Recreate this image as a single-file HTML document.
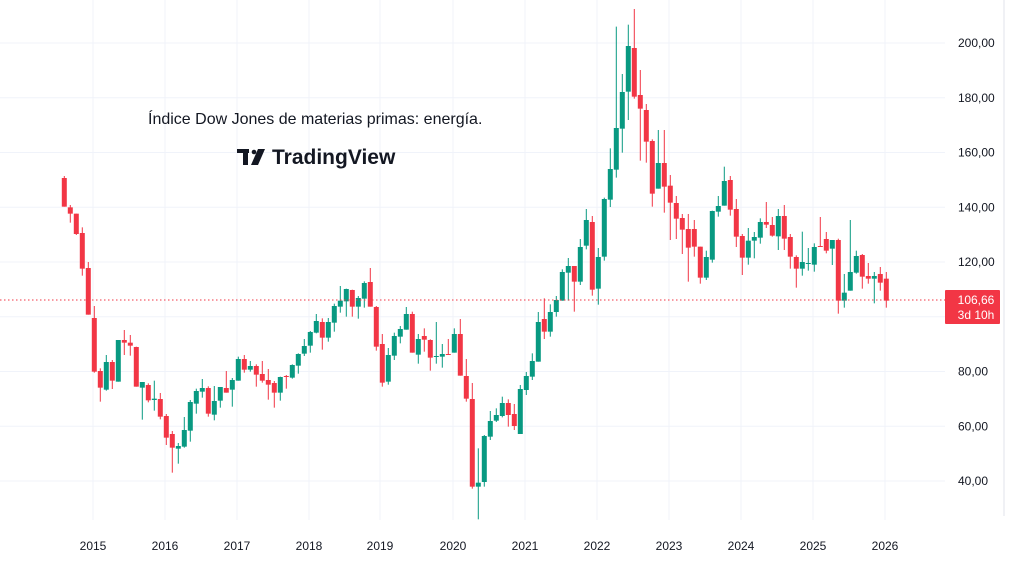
<!DOCTYPE html>
<html><head><meta charset="utf-8"><style>
body{margin:0;background:#fff;font-family:"Liberation Sans",sans-serif;}
svg{display:block}
</style></head><body>
<svg id="c" width="1010" height="567" xmlns="http://www.w3.org/2000/svg" font-family="Liberation Sans, sans-serif">
<rect width="1010" height="567" fill="#fff"/>
<g id="grid" stroke="#f0f3fa" stroke-width="1"></g>
<text x="148" y="124" font-size="16" fill="#131722">Índice Dow Jones de materias primas: energía.</text>
<g fill="#131722"><rect x="237" y="149" width="12" height="4"/><rect x="243" y="149" width="5" height="16"/><circle cx="254" cy="152" r="2.3"/><polygon points="258,149 265,149 258,165 251,165"/></g>
<text x="272" y="164" font-size="21" font-weight="bold" fill="#131722">TradingView</text>
<g id="candles"></g>
<line x1="0" y1="300" x2="945" y2="300" stroke="#f23645" stroke-width="1" stroke-dasharray="1.5,2.5"/>
<g id="axis" font-size="12" fill="#131722"></g>
<rect x="945" y="290" width="55" height="34" fill="#f23645" rx="1"/>
<text x="976" y="304" font-size="12" fill="#fff" text-anchor="middle">106,66</text>
<text x="976" y="319" font-size="12" fill="#fff" text-anchor="middle">3d 10h</text>
<line x1="1004" y1="0" x2="1004" y2="516" stroke="#e0e3eb"/>
</svg>
<script>
var ns="http://www.w3.org/2000/svg";
function el(p,t,a,txt){var e=document.createElementNS(ns,t);for(var k in a)e.setAttribute(k,a[k]);if(txt)e.textContent=txt;document.getElementById(p).appendChild(e);}
var years=[2015,2016,2017,2018,2019,2020,2021,2022,2023,2024,2025,2026];
var yx=[93,165,237,309,380,453,525,597,669,741,813,885];
for(var i=0;i<12;i++){el("grid","line",{x1:yx[i],y1:0,x2:yx[i],y2:520});el("axis","text",{x:yx[i],y:550,"text-anchor":"middle"},""+years[i]);}
for(var p=40;p<=200;p+=20){var y=43+(200-p)*2.7375;el("grid","line",{x1:0,y1:y,x2:945,y2:y});el("axis","text",{x:958,y:y+4},p+",00");}
var z1=[["R",18,24,110,110],["R",105,112,131,158],["R",131,131,192,195],["R",172,189,296,317],["R",276,294,434,434],["R",408,444,605,608],["R",595,603,653,695],["G",555,576,659,662],["R",570,576,632,657],["G",510,510,635,635],["R",480,510,518,555],["R",495,518,527,557],["R",530,531,650,650],["G",636,636,653,749],["R",640,645,691,697],["G",632,686,690,722],["R",669,687,740,748],["R",732,738,803,825],["R",783,792,833,908],["G",819,828,836,881],["G",741,780,830,833],["G",690,696,782,815],["G",656,663,701,731],["G",627,654,665,683],["R",649,654,731,740],["G",648,693,734,751],["G",651,651,692,713],["R",603,654,668,668],["G",624,630,659,710]];
var z2=[["G",290,297,362,362],["R",285,297,329,338],["G",303,318,329,335],["R",313,318,344,380],["R",303,342,362,368],["R",327,360,374,419],["R",363,369,398,443],["G",350,351,398,422],["R",345,348,351,386],["G",313,315,353,356],["G",280,282,317,341],["G",237,258,281,288],["G",213,216,257,278],["G",162,183,218,220],["R",175,186,233,269],["G",174,186,233,245],["G",131,138,188,215],["G",78,122,140,158],["G",86,87,124,170],["R",89,90,140,170],["G",108,114,140,176],["G",64,69,116,143],["R",24,66,140,140],["R",138,141,260,272],["R",222,252,368,380],["G",264,285,365,374],["G",218,228,287,300],["G",198,207,230,250],["G",141,162,209,209],["R",155,162,278,278],["G",222,237,284,311],["R",205,228,239,275],["R",238,240,293,332],["G",186,288,290,311],["G",252,282,290,323],["R",237,282,284,284],["G",205,222,278,278],["R",177,222,347,347],["R",297,348,416,425],["R",369,417,680,686]];
var z3=[["G",1345,1448,1460,1558],["G",1305,1308,1446,1460],["G",1233,1263,1310,1320],["G",1225,1245,1262,1266],["G",1190,1209,1248,1252],["R",1198,1209,1245,1280],["R",1212,1242,1278,1290],["G",1155,1167,1302,1302],["G",1116,1128,1170,1185],["G",1060,1083,1130,1140],["G",936,966,1085,1085],["R",895,957,995,1017],["G",913,936,995,1010],["G",888,900,936,950],["G",808,816,902,902],["G",774,798,818,902],["R",798,798,845,935],["G",717,741,845,855],["G",627,660,737,748],["R",648,666,869,887],["G",744,771,866,914],["G",593,597,770,782],["G",445,507,599,621],["G",80,384,509,533],["G",222,276,386,458],["G",74,138,275,360],["R",27,144,290,296],["R",210,285,326,482],["R",312,330,425,488],["R",418,423,581,620],["G",390,489,566,566],["R",390,489,560,638]];
var z4=[["R",45,77,128,240],["R",108,129,176,237],["R",162,174,209,282],["R",162,207,263,365],["R",180,207,260,290],["R",260,260,353,371],["G",272,291,353,360],["G",152,153,299,308],["G",108,138,155,170],["G",20,63,137,137],["R",48,60,149,167],["R",117,147,230,261],["R",222,228,293,345],["G",204,242,293,314],["G",216,231,242,295],["G",175,186,233,251],["R",126,186,194,204],["R",171,195,227,230],["G",147,168,229,270],["R",135,168,236,270],["R",222,231,290,326],["R",286,291,326,383],["G",215,306,326,347],["G",264,309,311,332],["G",250,261,314,335],["R",171,258,260,260],["R",216,237,272,280],["G",240,240,266,315],["R",236,240,422,461],["G",342,398,422,443],["G",180,336,392,392],["G",272,288,338,341],["R",282,285,350,386],["R",309,348,356,371],["G",336,348,356,430],["R",321,342,368,392],["R",336,356,422,443]];
function draw(arr,start,oy){for(var i=0;i<arr.length;i++){var d=arr[i],x=64.3+6*(start+i),c=d[0]=="G"?"#089981":"#f23645";
var hi=oy+d[1]/3,t=oy+d[2]/3,b=oy+d[3]/3,lo=oy+d[4]/3;if(b-t<1)b=t+1;
el("candles","line",{x1:x,y1:hi,x2:x,y2:lo,stroke:c,"stroke-width":1});
el("candles","rect",{x:x-2.5,y:t,width:5,height:b-t,fill:c});}}
draw(z1,0,170);draw(z2,29,260);draw(z3,69,0);draw(z4,101,160);
</script>
</body></html>
